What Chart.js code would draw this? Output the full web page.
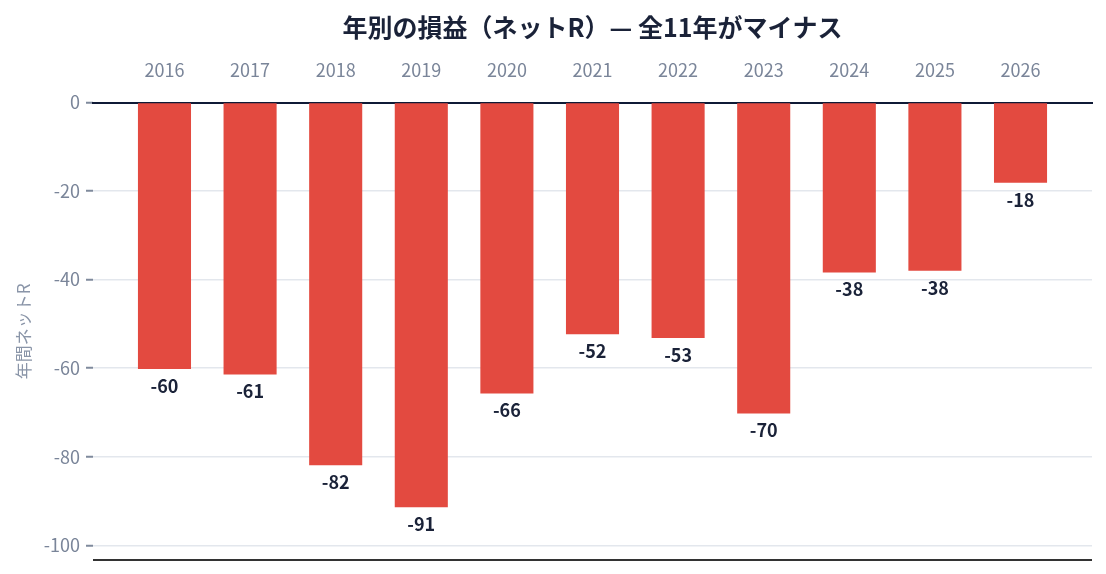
<!DOCTYPE html>
<html lang="ja">
<head>
<meta charset="utf-8">
<script src="https://cdn.jsdelivr.net/npm/chart.js@4/dist/chart.umd.min.js"></script>
<style>
  html, body { margin: 0; padding: 0; background: #fff; }
  #wrap { width: 1106px; height: 574px; }
</style>
</head>
<body>
<div id="wrap"><canvas id="c" width="1106" height="574"></canvas></div>
<script>
// 年別の損益 (ネットR)
const YEARS   = ['2016', '2017', '2018', '2019', '2020', '2021', '2022', '2023', '2024', '2025', '2026'];
const NET_R   = [-60.2, -61.4, -81.9, -91.4, -65.7, -52.3, -53.2, -70.2, -38.4, -38.0, -18.1];
const Y_TICKS = [0, -20, -40, -60, -80, -100];

const TITLE   = '年別の損益（ネットR）— 全11年がマイナス';
const FONT    = '"Noto Sans CJK JP", "Noto Sans", sans-serif';
const INK     = '#1a2238';
const MUTED   = '#7a8599';
const BAR_RED = '#e34a40';

// title centred over the plot, bottom frame line, value labels under bars
const decorPlugin = {
  id: 'decor',
  afterDraw(chart) {
    const { ctx, chartArea } = chart;
    ctx.save();
    ctx.fillStyle = INK;
    ctx.font = `bold 25px ${FONT}`;
    ctx.textAlign = 'center';
    ctx.textBaseline = 'middle';
    ctx.fillText(TITLE, (chartArea.left + chartArea.right) / 2, 27);

    ctx.strokeStyle = '#333333';
    ctx.lineWidth = 2;
    ctx.beginPath();
    ctx.moveTo(chartArea.left, chartArea.bottom);
    ctx.lineTo(chartArea.right, chartArea.bottom);
    ctx.stroke();

    ctx.font = `bold 18px ${FONT}`;
    const meta = chart.getDatasetMeta(0);
    meta.data.forEach((bar, i) => {
      ctx.fillText(String(Math.round(NET_R[i])), bar.x, bar.y + 17);
    });
    ctx.restore();
  },
};

new Chart(document.getElementById('c'), {
  type: 'bar',
  data: {
    datasets: [{
      label: '年間ネットR',
      data: NET_R.map((v, i) => ({ x: i, y: v })),
      backgroundColor: BAR_RED,
      borderWidth: 0,
      barPercentage: 0.62,
      categoryPercentage: 1,
    }],
  },
  options: {
    responsive: false,
    animation: false,
    layout: { padding: { top: 0, right: 14, bottom: 14, left: 0 } },
    plugins: {
      legend: { display: false },
      tooltip: { enabled: false },
    },
    scales: {
      x: {
        type: 'linear',
        position: 'top',
        offset: false,
        min: -0.835,
        max: YEARS.length - 1 + 0.835,
        afterFit: (s) => { s.height = 102.5; s.paddingLeft = 0; s.paddingRight = 0; },
        grid: { display: false, drawTicks: false },
        border: { display: true, color: '#0f1a36', width: 2 },
        ticks: {
          stepSize: 1,
          includeBounds: false,
          autoSkip: false,
          maxRotation: 0,
          padding: 22,
          color: MUTED,
          font: { family: FONT, size: 18 },
          callback: (v) => YEARS[v] ?? '',
        },
      },
      y: {
        min: -103.3,
        max: 0,
        afterFit: (s) => { s.width = 93; s.paddingTop = 0; s.paddingBottom = 0; },
        afterBuildTicks: (s) => { s.ticks = Y_TICKS.map((v) => ({ value: v })); },
        border: { display: false },
        grid: {
          color: '#e3e7ed',
          lineWidth: 1.5,
          tickColor: '#7f8a9c',
          tickLength: 7,
          tickWidth: 2,
        },
        ticks: {
          padding: 6,
          color: MUTED,
          font: { family: FONT, size: 18 },
        },
        title: {
          display: true,
          text: '年間ネットR',
          color: '#8a95a8',
          font: { family: FONT, size: 17 },
          padding: { top: 13, bottom: 0 },
        },
      },
    },
  },
  plugins: [decorPlugin],
});
</script>
</body>
</html>
